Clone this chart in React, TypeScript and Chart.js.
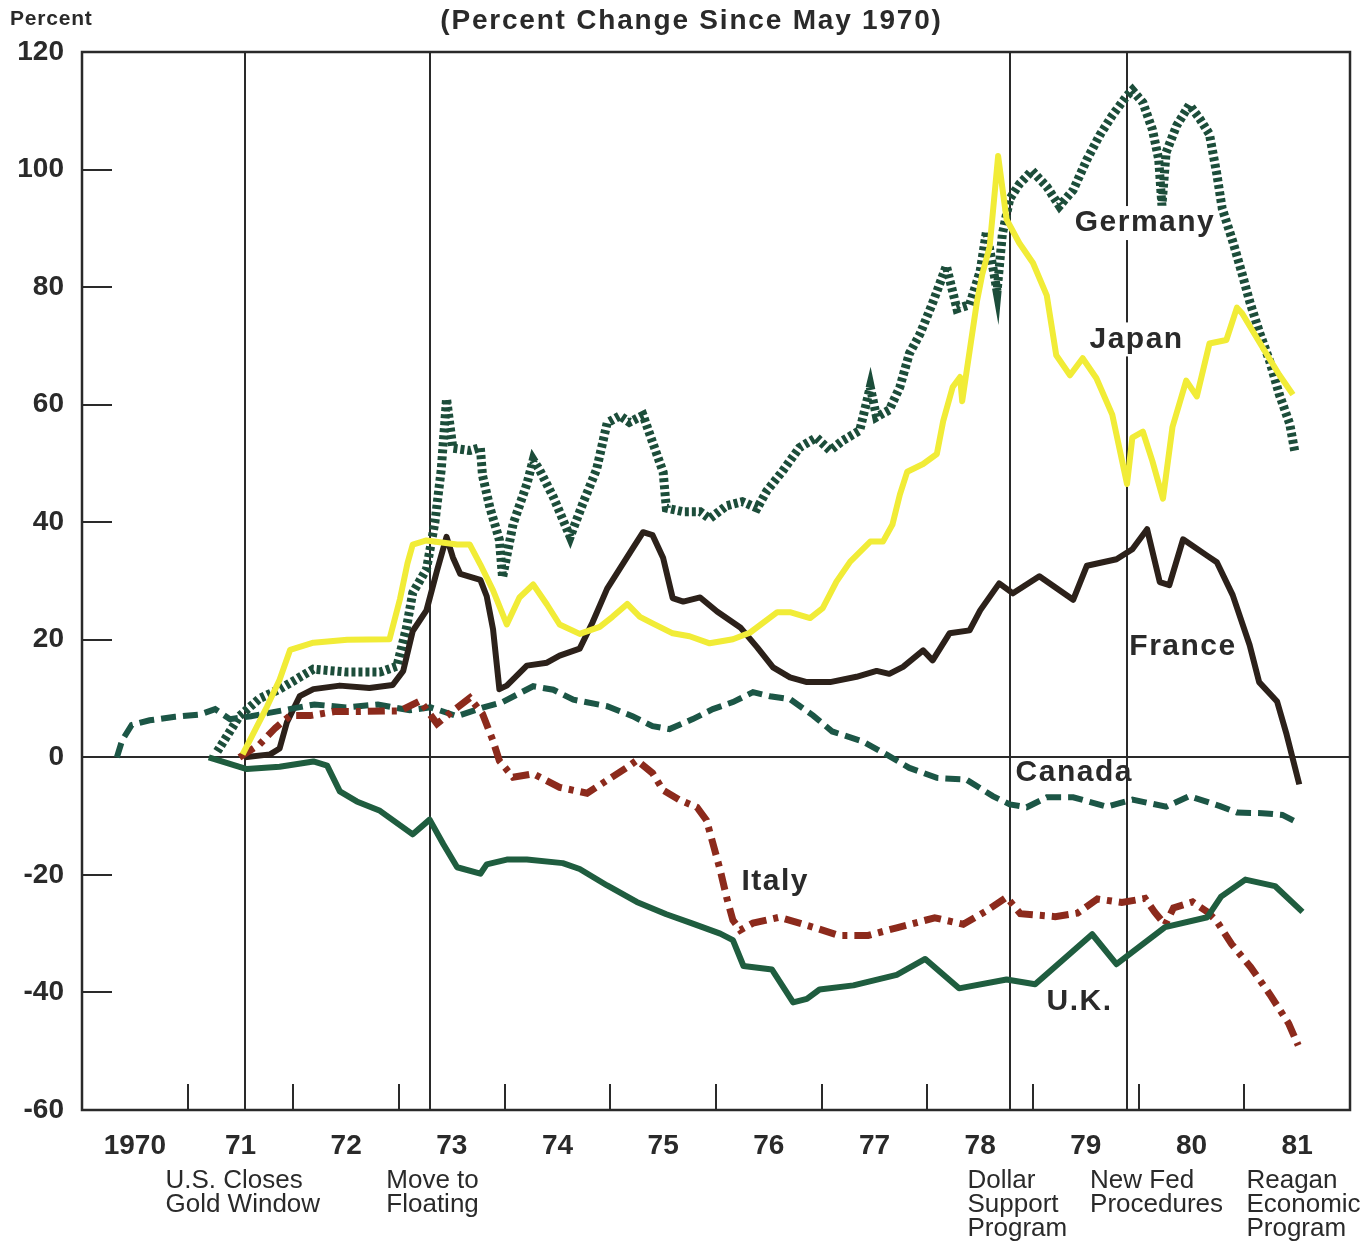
import React, { useEffect, useRef } from "react";
import { Chart, registerables } from "chart.js";

Chart.register(...registerables);

// ---------- DATA (percent change since May 1970) ----------
const germanyDates = [1971.28, 1971.49, 1971.68, 1971.87, 1972.19, 1972.51, 1972.82, 1972.98, 1973.07, 1973.13, 1973.26, 1973.34, 1973.40, 1973.45, 1973.51, 1973.67, 1973.77, 1973.79, 1973.86, 1973.95, 1973.98, 1974.08, 1974.21, 1974.27, 1974.33, 1974.46, 1974.62, 1974.74, 1974.87, 1974.97, 1975.09, 1975.18, 1975.31, 1975.40, 1975.50, 1975.53, 1975.69, 1975.85, 1975.94, 1976.10, 1976.25, 1976.39, 1976.48, 1976.63, 1976.79, 1976.95, 1977.08, 1977.20, 1977.36, 1977.46, 1977.52, 1977.64, 1977.74, 1977.83, 1977.93, 1978.05, 1978.18, 1978.28, 1978.40, 1978.50, 1978.56, 1978.66, 1978.71, 1978.78, 1978.87, 1978.99, 1979.13, 1979.25, 1979.38, 1979.51, 1979.63, 1979.75, 1979.89, 1979.94, 1980.04, 1980.13, 1980.19, 1980.22, 1980.26, 1980.36, 1980.48, 1980.58, 1980.67, 1980.74, 1980.79, 1980.89, 1980.98, 1981.05, 1981.14, 1981.24, 1981.33, 1981.43, 1981.48];
const germanyValues = [1, 7, 10, 11.6, 15, 14.5, 14.5, 15.5, 22, 28, 32, 40, 49, 61, 52.6, 52.2, 52.7, 48, 42.5, 37, 30.6, 39.7, 46.5, 50.6, 48.9, 44.3, 37.5, 43.2, 49, 56.9, 58.1, 57, 58.2, 53.6, 48.5, 42.4, 41.8, 41.8, 40.6, 42.8, 43.5, 42.4, 45.3, 48.7, 52.7, 54.4, 52.2, 53.9, 55.6, 63, 57.9, 59.1, 63, 68.7, 72, 77.3, 83.6, 76.3, 77, 82.7, 89.5, 79.3, 89, 95, 97.5, 99.8, 97.1, 93.8, 96.5, 101.7, 105.8, 109.2, 112.6, 113.5, 111.4, 106.8, 101.7, 93.9, 102.9, 107.5, 111, 108.6, 106, 99.2, 93.4, 87.8, 82.2, 77.6, 72.5, 67.4, 61.8, 56.7, 51.8];

const japanDates = [1971.52, 1971.64, 1971.75, 1971.87, 1971.97, 1972.19, 1972.51, 1972.91, 1973.01, 1973.08, 1973.13, 1973.26, 1973.55, 1973.67, 1973.77, 1973.89, 1974.02, 1974.14, 1974.27, 1974.40, 1974.52, 1974.71, 1974.90, 1975.02, 1975.16, 1975.28, 1975.40, 1975.59, 1975.75, 1975.94, 1976.16, 1976.32, 1976.58, 1976.70, 1976.89, 1977.01, 1977.14, 1977.27, 1977.46, 1977.58, 1977.67, 1977.74, 1977.81, 1977.96, 1978.09, 1978.15, 1978.24, 1978.31, 1978.33, 1978.40, 1978.47, 1978.52, 1978.59, 1978.67, 1978.75, 1978.87, 1979.00, 1979.13, 1979.22, 1979.35, 1979.47, 1979.60, 1979.75, 1979.89, 1979.94, 1980.04, 1980.13, 1980.23, 1980.32, 1980.45, 1980.55, 1980.67, 1980.83, 1980.93, 1980.98, 1981.14, 1981.33, 1981.46];
const japanValues = [0.5, 4.7, 8.6, 13.2, 18.3, 19.5, 20, 20.1, 27, 33, 36.2, 36.9, 36.2, 36.2, 32.8, 28.4, 22.6, 27.2, 29.4, 26, 22.6, 21, 22.2, 23.9, 26.1, 23.9, 22.8, 21.1, 20.6, 19.4, 20.1, 21.2, 24.7, 24.7, 23.7, 25.4, 29.9, 33.3, 36.7, 36.7, 39.6, 44.7, 48.6, 49.9, 51.6, 57.2, 63, 64.7, 60.6, 69.1, 77.6, 82.2, 86.9, 102.3, 91.5, 87.5, 84.1, 78.6, 68.4, 65, 67.9, 64.5, 58.3, 46.5, 54.4, 55.4, 50.4, 44, 56.2, 64.1, 61.4, 70.4, 71, 76.5, 75.5, 70.7, 65.1, 61.7];

const franceDates = [1971.54, 1971.78, 1971.87, 1971.94, 1972.06, 1972.19, 1972.44, 1972.72, 1972.94, 1973.04, 1973.13, 1973.26, 1973.36, 1973.45, 1973.51, 1973.58, 1973.77, 1973.83, 1973.89, 1973.95, 1974.02, 1974.21, 1974.40, 1974.52, 1974.71, 1974.83, 1974.97, 1975.09, 1975.21, 1975.31, 1975.40, 1975.50, 1975.59, 1975.69, 1975.85, 1976.01, 1976.23, 1976.39, 1976.54, 1976.70, 1976.86, 1977.08, 1977.33, 1977.52, 1977.64, 1977.77, 1977.96, 1978.05, 1978.21, 1978.40, 1978.50, 1978.68, 1978.81, 1979.06, 1979.38, 1979.51, 1979.79, 1979.94, 1980.08, 1980.20, 1980.29, 1980.42, 1980.64, 1980.74, 1980.89, 1981.05, 1981.14, 1981.31, 1981.40, 1981.52];
const franceValues = [0, 0.5, 1.5, 6, 10.4, 11.6, 12.2, 11.8, 12.3, 14.7, 21.5, 25, 31.8, 37.5, 34, 31.2, 30.2, 27.4, 21.8, 11.6, 12.2, 15.6, 16.1, 17.3, 18.5, 22.9, 28.7, 32.1, 35.5, 38.3, 37.8, 33.9, 27.1, 26.5, 27.2, 24.8, 22.1, 18.7, 15.3, 13.6, 12.8, 12.8, 13.7, 14.7, 14.2, 15.4, 18.2, 16.5, 21.1, 21.6, 25, 29.6, 27.9, 30.8, 26.8, 32.6, 33.7, 35.4, 38.8, 29.8, 29.3, 37.1, 34.4, 33.2, 27.6, 19.1, 12.8, 9.5, 3.9, -4.6];

const canadaDates = [1970.33, 1970.38, 1970.47, 1970.64, 1970.88, 1971.12, 1971.26, 1971.40, 1971.60, 1971.90, 1972.20, 1972.50, 1972.80, 1973.10, 1973.30, 1973.55, 1973.80, 1973.98, 1974.27, 1974.46, 1974.65, 1974.97, 1975.21, 1975.40, 1975.56, 1975.78, 1975.97, 1976.16, 1976.35, 1976.51, 1976.70, 1976.92, 1977.10, 1977.39, 1977.62, 1977.83, 1978.09, 1978.37, 1978.62, 1978.78, 1978.94, 1979.13, 1979.38, 1979.70, 1979.94, 1980.26, 1980.48, 1980.77, 1980.93, 1981.17, 1981.36, 1981.49];
const canadaValues = [0, 2.9, 5.5, 6.3, 6.9, 7.3, 8.2, 6.5, 7, 8, 9, 8.5, 9, 8, 8.5, 7, 8.5, 9.4, 12.1, 11.5, 9.8, 8.7, 7, 5.3, 4.8, 6.5, 8.2, 9.4, 11.1, 10.4, 9.9, 7.1, 4.4, 2.7, 0.4, -1.8, -3.5, -3.8, -6.6, -8, -8.5, -6.8, -6.8, -8.4, -7.2, -8.4, -6.6, -8.3, -9.4, -9.5, -9.8, -11];

const italyDates = [1971.49, 1971.68, 1971.83, 1971.97, 1972.16, 1972.39, 1972.63, 1972.87, 1973.01, 1973.20, 1973.36, 1973.51, 1973.67, 1973.79, 1973.89, 1973.95, 1974.08, 1974.27, 1974.52, 1974.78, 1974.97, 1975.16, 1975.25, 1975.40, 1975.50, 1975.66, 1975.82, 1975.91, 1975.97, 1976.04, 1976.10, 1976.16, 1976.23, 1976.35, 1976.60, 1976.92, 1977.16, 1977.44, 1977.71, 1978.07, 1978.34, 1978.57, 1978.75, 1978.88, 1979.21, 1979.42, 1979.61, 1979.84, 1980.06, 1980.15, 1980.25, 1980.33, 1980.51, 1980.65, 1980.74, 1980.88, 1981.06, 1981.24, 1981.42, 1981.51];
const italyValues = [0, 2.2, 5, 7.1, 7.1, 7.8, 7.8, 7.9, 7.9, 9.6, 5.7, 7.9, 10.1, 7.4, 2.8, -0.6, -3.4, -2.8, -5.1, -6.1, -3.9, -1.7, -0.5, -2.7, -5.6, -7.3, -8.5, -10.7, -14.6, -19.2, -23.8, -27.7, -29.4, -28.2, -27.2, -28.9, -30.3, -30.3, -29, -27.3, -28.4, -26, -23.8, -26.6, -27.1, -26.5, -24.1, -24.7, -24, -26.3, -28.5, -25.6, -24.6, -26.3, -27.9, -31.8, -35.7, -40.3, -45.3, -49];

const ukDates = [1971.2, 1971.56, 1971.87, 1972.19, 1972.32, 1972.44, 1972.60, 1972.82, 1973.13, 1973.29, 1973.42, 1973.55, 1973.77, 1973.83, 1974.02, 1974.21, 1974.55, 1974.71, 1974.97, 1975.25, 1975.53, 1975.78, 1976.04, 1976.16, 1976.26, 1976.53, 1976.73, 1976.86, 1976.98, 1977.30, 1977.71, 1977.98, 1978.30, 1978.75, 1979.02, 1979.56, 1979.79, 1980.25, 1980.65, 1980.78, 1981.01, 1981.29, 1981.55];
const ukValues = [0, -2, -1.6, -0.7, -1.4, -5.8, -7.5, -9.1, -13.1, -10.6, -14.8, -18.7, -19.8, -18.2, -17.4, -17.4, -18, -19, -21.8, -24.6, -26.7, -28.3, -30, -31.1, -35.5, -36.1, -41.7, -41.1, -39.5, -38.8, -37, -34.3, -39.3, -37.8, -38.6, -30.1, -35.2, -28.9, -27.2, -23.7, -20.8, -21.9, -26.3];

const yearLabelPositions = [1970.5, 1971.5, 1972.5, 1973.5, 1974.5, 1975.5, 1976.5, 1977.5, 1978.5, 1979.5, 1980.5, 1981.5];
const yearLabels = ["1970", "71", "72", "73", "74", "75", "76", "77", "78", "79", "80", "81"];
const yearBoundaries = [1971, 1972, 1973, 1974, 1975, 1976, 1977, 1978, 1979, 1980, 1981];
const yTickMarks = [-40, -20, 20, 40, 60, 80, 100];

const eventLineYears = [1971.54, 1973.29, 1978.78, 1979.89];
const eventTextYears = [1970.79, 1972.88, 1978.38, 1979.54, 1981.02];
const eventTexts = [
  ["U.S. Closes", "Gold Window"],
  ["Move to", "Floating"],
  ["Dollar", "Support", "Program"],
  ["New Fed", "Procedures"],
  ["Reagan", "Economic", "Program"],
];

const seriesNames = ["Germany", "Japan", "France", "Canada", "Italy", "U.K."];
const labelYears = [1980.06, 1979.98, 1980.42, 1979.39, 1976.56, 1979.44];
const labelValues = [90.9, 71.1, 18.8, -2.7, -21.1, -41.5];
const labelMasked = [true, true, false, false, false, false];

const TITLE = "(Percent Change Since May 1970)";
const UNIT = "Percent";

const INK = "#2a2a2a";
const SANS = '"Liberation Sans", Arial, Helvetica, sans-serif';

const pts = (d: number[], v: number[]) => d.map((x, i) => ({ x, y: v[i] }));

const decorPlugin = {
  id: "decor",
  beforeDatasetsDraw(chart: any) {
    const { ctx, chartArea: a, scales } = chart;
    const xs = scales.x;
    const ys = scales.y;
    ctx.save();
    ctx.strokeStyle = INK;
    ctx.lineCap = "butt";
    ctx.lineWidth = 2;
    eventLineYears.forEach((yr) => {
      const px = Math.round(xs.getPixelForValue(yr));
      ctx.beginPath();
      ctx.moveTo(px, a.top);
      ctx.lineTo(px, a.bottom);
      ctx.stroke();
    });
    const y0 = Math.round(ys.getPixelForValue(0));
    ctx.beginPath();
    ctx.moveTo(a.left, y0);
    ctx.lineTo(a.right, y0);
    ctx.stroke();
    yearBoundaries.forEach((yr) => {
      const px = Math.round(xs.getPixelForValue(yr));
      ctx.beginPath();
      ctx.moveTo(px, a.bottom);
      ctx.lineTo(px, a.bottom - 26);
      ctx.stroke();
    });
    yTickMarks.forEach((v) => {
      const py = Math.round(ys.getPixelForValue(v));
      ctx.beginPath();
      ctx.moveTo(a.left, py);
      ctx.lineTo(a.left + 30, py);
      ctx.stroke();
    });
    ctx.lineWidth = 2.5;
    ctx.strokeRect(a.left, a.top, a.right - a.left, a.bottom - a.top);
    ctx.restore();
  },
  afterDraw(chart: any) {
    const { ctx, chartArea: a, scales } = chart;
    const xs = scales.x;
    const ys = scales.y;
    ctx.save();
    ctx.fillStyle = INK;
    ctx.textBaseline = "middle";
    ctx.textAlign = "center";
    ctx.font = "bold 28px " + SANS;
    (ctx as any).letterSpacing = "1.8px";
    ctx.fillText(TITLE, chart.width / 2 + 9, 21);
    ctx.textAlign = "left";
    ctx.font = "bold 21px " + SANS;
    (ctx as any).letterSpacing = "0.8px";
    ctx.fillText(UNIT, 10, 19);
    ctx.font = "bold 30px " + SANS;
    (ctx as any).letterSpacing = "1.5px";
    ctx.textAlign = "center";
    seriesNames.forEach((name, i) => {
      const px = xs.getPixelForValue(labelYears[i]);
      const py = ys.getPixelForValue(labelValues[i]);
      if (labelMasked[i]) {
        const w = ctx.measureText(name).width;
        ctx.fillStyle = "#ffffff";
        ctx.fillRect(px - w / 2 - 2, py - 17, w + 4, 34);
        ctx.fillStyle = INK;
      }
      ctx.fillText(name, px, py);
    });
    ctx.font = "26px " + SANS;
    (ctx as any).letterSpacing = "0px";
    ctx.textAlign = "left";
    eventTexts.forEach((lines, i) => {
      const px = xs.getPixelForValue(eventTextYears[i]);
      lines.forEach((t, j) => {
        ctx.fillText(t, px, a.bottom + 71 + j * 24);
      });
    });
    ctx.restore();
  },
};

export default function App() {
  const ref = useRef<HTMLCanvasElement | null>(null);
  useEffect(() => {
    if (!ref.current) return;
    const common = { pointRadius: 0, pointHoverRadius: 0, tension: 0, fill: false, borderCapStyle: "butt", borderJoinStyle: "round" };
    const chart = new Chart(ref.current, {
      type: "line",
      data: {
        datasets: [
          { ...common, label: "Japan", data: pts(japanDates, japanValues), borderColor: "#f1ec37", borderWidth: 6 },
          { ...common, label: "U.K.", data: pts(ukDates, ukValues), borderColor: "#1f5d3f", borderWidth: 6 },
          { ...common, label: "Italy", data: pts(italyDates, italyValues), borderColor: "#8c2a1c", borderWidth: 7, borderDash: [17, 7, 5, 7], borderJoinStyle: "miter" },
          { ...common, label: "Canada", data: pts(canadaDates, canadaValues), borderColor: "#1c5646", borderWidth: 6, borderDash: [15, 7], borderJoinStyle: "miter" },
          { ...common, label: "France", data: pts(franceDates, franceValues), borderColor: "#2c211a", borderWidth: 6 },
          { ...common, label: "Germany", data: pts(germanyDates, germanyValues), borderColor: "#1c4d3a", borderWidth: 9, borderDash: [4, 3], borderJoinStyle: "miter" },
        ] as any,
      },
      options: {
        animation: false,
        responsive: false,
        devicePixelRatio: 1,
        events: [],
        layout: { padding: { left: 0, top: 52, right: 15, bottom: 0 } },
        plugins: { legend: { display: false }, tooltip: { enabled: false }, title: { display: false } },
        scales: {
          x: {
            type: "linear",
            min: 1970,
            max: 1982,
            grid: { display: false },
            border: { display: false },
            afterFit: (s: any) => { s.height = 136; },
            afterBuildTicks: (s: any) => { s.ticks = yearLabelPositions.map((v) => ({ value: v })); },
            ticks: {
              autoSkip: false,
              maxRotation: 0,
              padding: 11,
              color: INK,
              font: { family: SANS, size: 28, weight: "bold" },
              callback: (_v: any, i: number) => yearLabels[i],
            },
          },
          y: {
            min: -60,
            max: 120,
            grid: { display: false },
            border: { display: false },
            afterFit: (s: any) => { s.width = 82; },
            ticks: {
              stepSize: 20,
              padding: 10,
              color: INK,
              font: { family: SANS, size: 28, weight: "bold" },
              callback: (v: any) => String(v),
            },
          },
        },
      } as any,
      plugins: [decorPlugin],
    });
    return () => chart.destroy();
  }, []);
  return (
    <div style={{ position: "absolute", left: 0, top: 0, width: 1365, height: 1246, background: "#ffffff" }}>
      <canvas ref={ref} width={1365} height={1246} style={{ display: "block", width: 1365, height: 1246 }} />
    </div>
  );
}
